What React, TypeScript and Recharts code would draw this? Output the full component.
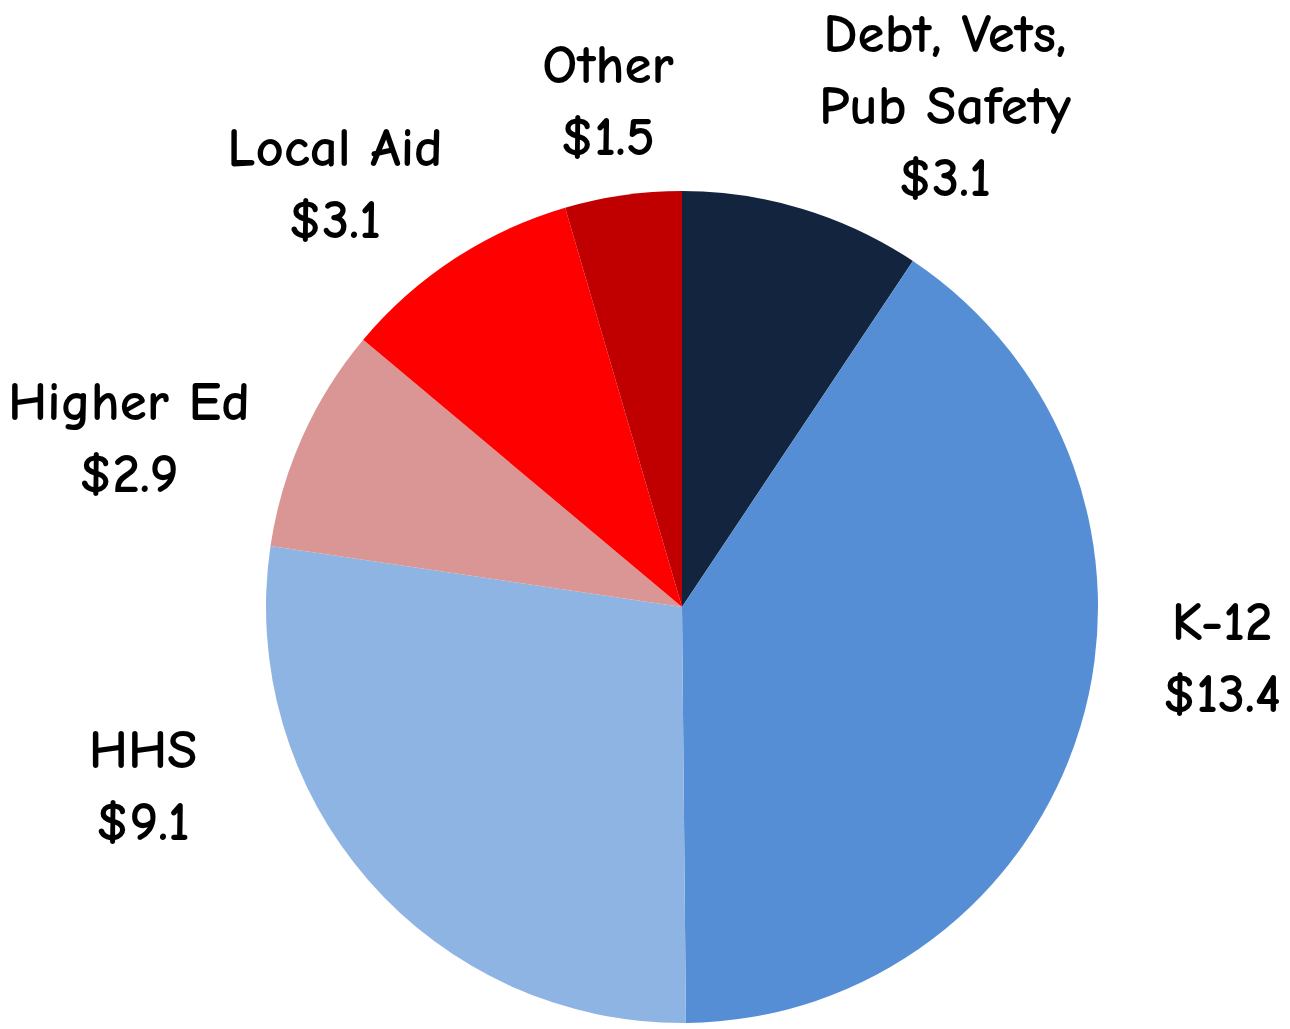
import React from 'react';
import { PieChart, Pie, Cell } from 'recharts';

// billions of dollars, clockwise from 12 o'clock
const categories = ['Debt, Vets,\nPub Safety', 'K-12', 'HHS', 'Higher Ed', 'Local Aid', 'Other'];
const amounts = [3.1, 13.4, 9.1, 2.9, 3.1, 1.5];
const colors = ['#13243F', '#558ED5', '#8EB4E3', '#D99694', '#FF0000', '#C00000'];

// label block centre, relative to the pie centre
const labelOffsets = [
  [263, -501],
  [540, 51],
  [-539, 179],
  [-553, -169],
  [-347, -423],
  [-74, -506],
];

const data = categories.map((name, i) => ({ name, value: amounts[i] }));

const FONT = '"Comic Sans MS", "Comic Neue", "DejaVu Sans", sans-serif';
const LINE = 72;

const renderLabel = (props: any) => {
  const { cx, cy, index } = props;
  const lines = [...data[index].name.split('\n'), `$${amounts[index].toFixed(1)}`];
  const [dx, dy] = labelOffsets[index];
  const x = cx + dx;
  const top = cy + dy - ((lines.length - 1) * LINE) / 2;
  return (
    <text
      key={`lbl-${index}`}
      x={x}
      y={top}
      textAnchor="middle"
      dominantBaseline="central"
      fill="#000"
      fontSize={55}
      fontWeight="bold"
      fontFamily={FONT}
    >
      {lines.map((l, j) => (
        <tspan key={j} x={x} y={top + j * LINE}>
          {l}
        </tspan>
      ))}
    </text>
  );
};

const App: React.FC = () => {
  return (
    <div style={{ position: 'absolute', left: 0, top: 0, width: 1290, height: 1029, background: '#fff' }}>
      <PieChart width={1290} height={1029} margin={{ top: 0, right: 0, bottom: 0, left: 0 }}>
        <Pie
          data={data}
          dataKey="value"
          nameKey="name"
          cx={682}
          cy={607}
          outerRadius={416}
          startAngle={90}
          endAngle={-270}
          stroke="none"
          label={renderLabel}
          labelLine={false}
          isAnimationActive={false}
        >
          {data.map((d, i) => (
            <Cell key={d.name} fill={colors[i]} />
          ))}
        </Pie>
      </PieChart>
    </div>
  );
};

export default App;
